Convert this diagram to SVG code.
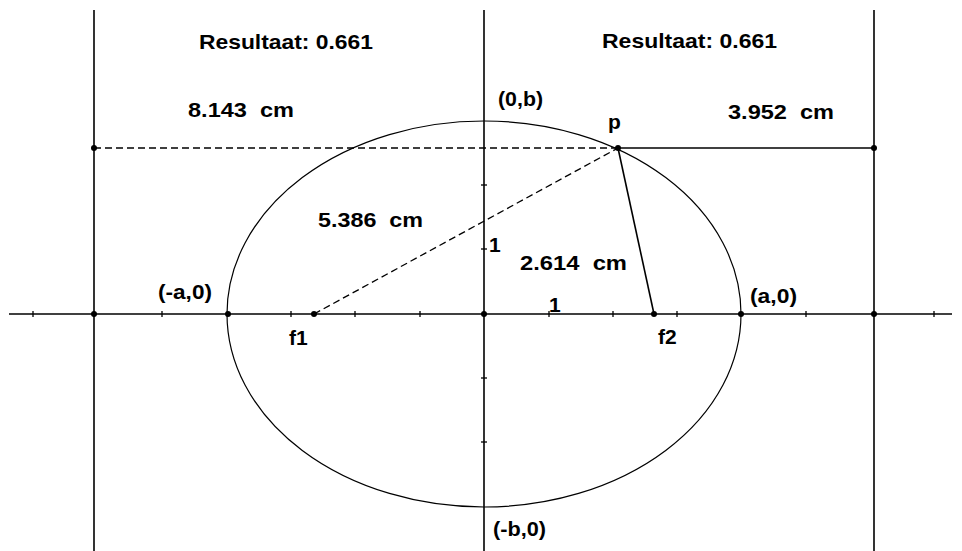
<svg xmlns="http://www.w3.org/2000/svg" width="962" height="551" viewBox="0 0 962 551">
<style>
.ax{stroke:#000;stroke-width:1.6;fill:none}
.thin{stroke:#000;stroke-width:1.2;fill:none}
.dash{stroke:#000;stroke-width:1.3;fill:none;stroke-dasharray:7 4}
.tick{stroke:#000;stroke-width:1.3}
.dot{fill:#000}
text{font-family:"Liberation Sans",Arial,sans-serif;font-weight:bold;font-size:21px;fill:#000}
</style>
<rect width="962" height="551" fill="#fff"/>
<g id="axes">
<line class="ax" x1="9" y1="314" x2="952" y2="314"/>
<line class="ax" x1="484" y1="10" x2="484" y2="551"/>
<line class="ax" x1="94" y1="10" x2="94" y2="551"/>
<line class="ax" x1="874" y1="10" x2="874" y2="551"/>
<g class="tick">
<line x1="33" y1="311" x2="33" y2="317"/>
<line x1="162" y1="311" x2="162" y2="317"/>
<line x1="291" y1="311" x2="291" y2="317"/>
<line x1="355" y1="311" x2="355" y2="317"/>
<line x1="420" y1="311" x2="420" y2="317"/>
<line x1="549" y1="311" x2="549" y2="317"/>
<line x1="613" y1="311" x2="613" y2="317"/>
<line x1="677" y1="311" x2="677" y2="317"/>
<line x1="806" y1="311" x2="806" y2="317"/>
<line x1="934" y1="311" x2="934" y2="317"/>
<line x1="481" y1="185" x2="487" y2="185"/>
<line x1="481" y1="249" x2="487" y2="249"/>
<line x1="481" y1="378" x2="487" y2="378"/>
<line x1="481" y1="442" x2="487" y2="442"/>
</g>
</g>
<g id="ellipse">
<ellipse class="thin" cx="484" cy="314" rx="257" ry="193"/>
</g>
<g id="connectors">
<line class="dash" x1="94" y1="148" x2="618" y2="148"/>
<line class="ax" x1="618" y1="148" x2="874" y2="148"/>
<line class="dash" x1="314" y1="314" x2="618" y2="148"/>
<line class="ax" x1="618" y1="148" x2="654" y2="314"/>
</g>
<g id="points">
<circle class="dot" cx="94" cy="314" r="3"/>
<circle class="dot" cx="228" cy="314" r="3"/>
<circle class="dot" cx="314" cy="314" r="3"/>
<circle class="dot" cx="484" cy="314" r="3"/>
<circle class="dot" cx="654" cy="314" r="3"/>
<circle class="dot" cx="741" cy="314" r="3"/>
<circle class="dot" cx="874" cy="314" r="3"/>
<circle class="dot" cx="618" cy="148" r="3"/>
<circle class="dot" cx="94" cy="148" r="3"/>
<circle class="dot" cx="874" cy="148" r="3"/>
</g>
<g id="labels">
<text x="199" y="49" textLength="174" lengthAdjust="spacingAndGlyphs">Resultaat: 0.661</text>
<text x="602" y="48" textLength="175" lengthAdjust="spacingAndGlyphs">Resultaat: 0.661</text>
<text x="188" y="117" textLength="106" lengthAdjust="spacingAndGlyphs" xml:space="preserve">8.143  cm</text>
<text x="728" y="119" textLength="106" lengthAdjust="spacingAndGlyphs" xml:space="preserve">3.952  cm</text>
<text x="498" y="106" textLength="45" lengthAdjust="spacingAndGlyphs">(0,b)</text>
<text x="608" y="129">p</text>
<text x="318" y="227" textLength="105" lengthAdjust="spacingAndGlyphs" xml:space="preserve">5.386  cm</text>
<text x="489" y="252">1</text>
<text x="520" y="270" textLength="107" lengthAdjust="spacingAndGlyphs" xml:space="preserve">2.614  cm</text>
<text x="549" y="312">1</text>
<text x="158" y="299" textLength="54" lengthAdjust="spacingAndGlyphs">(-a,0)</text>
<text x="289" y="345">f1</text>
<text x="750" y="303" textLength="47" lengthAdjust="spacingAndGlyphs">(a,0)</text>
<text x="658" y="344">f2</text>
<text x="493" y="536" textLength="53" lengthAdjust="spacingAndGlyphs">(-b,0)</text>
</g>
</svg>
